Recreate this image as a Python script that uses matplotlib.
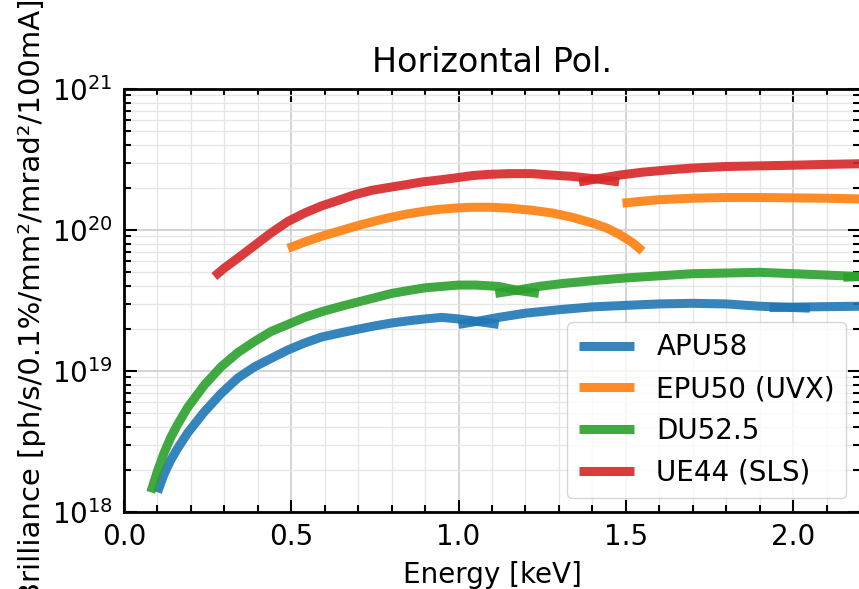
import matplotlib.pyplot as plt
from matplotlib.ticker import MultipleLocator

# APU58 (harmonics 1, 3, 5)
apu58_e1 = [0.10, 0.12, 0.14, 0.16, 0.19, 0.24, 0.29, 0.34, 0.39, 0.44, 0.49,
            0.54, 0.59, 0.65, 0.70, 0.75, 0.80, 0.85, 0.90, 0.95, 1.00, 1.06, 1.12]
apu58_b1 = [1.38e18, 1.86e18, 2.34e18, 2.82e18, 3.63e18, 5.13e18, 6.92e18,
            8.91e18, 1.07e19, 1.23e19, 1.41e19, 1.58e19, 1.74e19, 1.87e19,
            1.98e19, 2.09e19, 2.19e19, 2.27e19, 2.34e19, 2.40e19, 2.34e19,
            2.24e19, 2.14e19]
apu58_e3 = [1.00, 1.06, 1.12, 1.20, 1.30, 1.40, 1.50, 1.60, 1.70, 1.80, 1.90,
            2.00, 2.05]
apu58_b3 = [2.14e19, 2.26e19, 2.40e19, 2.57e19, 2.72e19, 2.85e19, 2.92e19,
            2.99e19, 3.02e19, 2.99e19, 2.88e19, 2.82e19, 2.79e19]
apu58_e5 = [1.93, 2.05, 2.20]
apu58_b5 = [2.82e19, 2.85e19, 2.88e19]

# EPU50 (UVX)
epu50_e1 = [0.49, 0.54, 0.59, 0.64, 0.69, 0.74, 0.79, 0.84, 0.89, 0.94, 0.99,
            1.04, 1.09, 1.15, 1.22, 1.28, 1.34, 1.40, 1.44, 1.48, 1.52, 1.55]
epu50_b1 = [7.41e19, 8.22e19, 9.02e19, 9.77e19, 1.06e20, 1.14e20, 1.22e20,
            1.29e20, 1.35e20, 1.40e20, 1.43e20, 1.45e20, 1.45e20, 1.43e20,
            1.38e20, 1.32e20, 1.23e20, 1.12e20, 1.04e20, 9.33e19, 8.13e19,
            7.08e19]
epu50_e3 = [1.49, 1.55, 1.60, 1.70, 1.80, 1.90, 2.00, 2.10, 2.20]
epu50_b3 = [1.55e20, 1.60e20, 1.64e20, 1.68e20, 1.70e20, 1.70e20, 1.69e20,
            1.68e20, 1.66e20]

# DU52.5
du52_e1 = [0.08, 0.10, 0.12, 0.14, 0.16, 0.19, 0.24, 0.29, 0.34, 0.39, 0.44,
           0.49, 0.54, 0.59, 0.65, 0.70, 0.75, 0.80, 0.85, 0.90, 0.95, 1.00,
           1.05, 1.12, 1.18, 1.24]
du52_b1 = [1.38e18, 1.95e18, 2.63e18, 3.39e18, 4.17e18, 5.50e18, 7.94e18,
           1.07e19, 1.35e19, 1.62e19, 1.91e19, 2.14e19, 2.40e19, 2.63e19,
           2.88e19, 3.09e19, 3.31e19, 3.55e19, 3.72e19, 3.89e19, 3.98e19,
           4.07e19, 4.07e19, 3.98e19, 3.72e19, 3.55e19]
du52_e3 = [1.11, 1.18, 1.24, 1.31, 1.40, 1.50, 1.60, 1.70, 1.80, 1.90, 2.00,
           2.10, 2.20]
du52_b3 = [3.55e19, 3.76e19, 3.98e19, 4.17e19, 4.37e19, 4.57e19, 4.73e19,
           4.90e19, 4.95e19, 5.01e19, 4.90e19, 4.79e19, 4.68e19]
du52_e5 = [2.15, 2.20]
du52_b5 = [4.62e19, 4.68e19]

# UE44 (SLS)
ue44_e1 = [0.27, 0.30, 0.34, 0.39, 0.44, 0.49, 0.54, 0.59, 0.64, 0.69, 0.74,
           0.79, 0.84, 0.89, 0.94, 0.99, 1.04, 1.09, 1.15, 1.22, 1.28, 1.34,
           1.42, 1.48]
ue44_b1 = [4.68e19, 5.37e19, 6.31e19, 7.76e19, 9.55e19, 1.15e20, 1.32e20,
           1.48e20, 1.62e20, 1.78e20, 1.91e20, 2.00e20, 2.09e20, 2.19e20,
           2.26e20, 2.34e20, 2.43e20, 2.48e20, 2.51e20, 2.51e20, 2.45e20,
           2.40e20, 2.29e20, 2.19e20]
ue44_e3 = [1.36, 1.42, 1.48, 1.55, 1.62, 1.70, 1.80, 1.90, 2.00, 2.10, 2.20]
ue44_b3 = [2.19e20, 2.32e20, 2.45e20, 2.57e20, 2.66e20, 2.75e20, 2.82e20,
           2.85e20, 2.88e20, 2.92e20, 2.95e20]

undulators = [
    ("APU58", "tab:blue", [(apu58_e1, apu58_b1), (apu58_e3, apu58_b3), (apu58_e5, apu58_b5)]),
    ("EPU50 (UVX)", "tab:orange", [(epu50_e1, epu50_b1), (epu50_e3, epu50_b3)]),
    ("DU52.5", "tab:green", [(du52_e1, du52_b1), (du52_e3, du52_b3), (du52_e5, du52_b5)]),
    ("UE44 (SLS)", "tab:red", [(ue44_e1, ue44_b1), (ue44_e3, ue44_b3)]),
]

plt.rcParams["font.family"] = "DejaVu Sans"
plt.rcParams["font.size"] = 19

fig = plt.figure(figsize=(8.59, 5.89), dpi=100)
ax = fig.add_axes([124 / 859, 1 - 512 / 589, 736 / 859, 423 / 589])

for name, color, segments in undulators:
    for i, (e, b) in enumerate(segments):
        ax.plot(e, b, color=color, lw=6.5, alpha=0.9, solid_capstyle="butt",
                solid_joinstyle="round", label=name if i == 0 else None)

ax.set_yscale("log")
ax.set_xlim(0, 2.2)
ax.set_ylim(1e18, 1e21)
ax.xaxis.set_major_locator(MultipleLocator(0.5))
ax.xaxis.set_minor_locator(MultipleLocator(0.1))

ax.tick_params(which="both", direction="in", top=True, right=True, width=1.5)
ax.tick_params(which="major", length=9, pad=8, labelsize=20)
ax.tick_params(which="minor", length=5)
for s in ax.spines.values():
    s.set_linewidth(2)

ax.grid(which="major", color="0.8", lw=1.2)
ax.grid(which="minor", color="0.9", lw=1)
ax.set_axisbelow(True)

ax.set_title("Horizontal Pol.", fontsize=24, pad=12)
ax.set_xlabel("Energy [keV]", fontsize=20, labelpad=7)
ax.set_ylabel("Brilliance [ph/s/0.1%/mm²/mrad²/100mA]", fontsize=21, labelpad=4)

leg = ax.legend(loc="lower right", fontsize=20)

plt.savefig("out.png", dpi=100)
